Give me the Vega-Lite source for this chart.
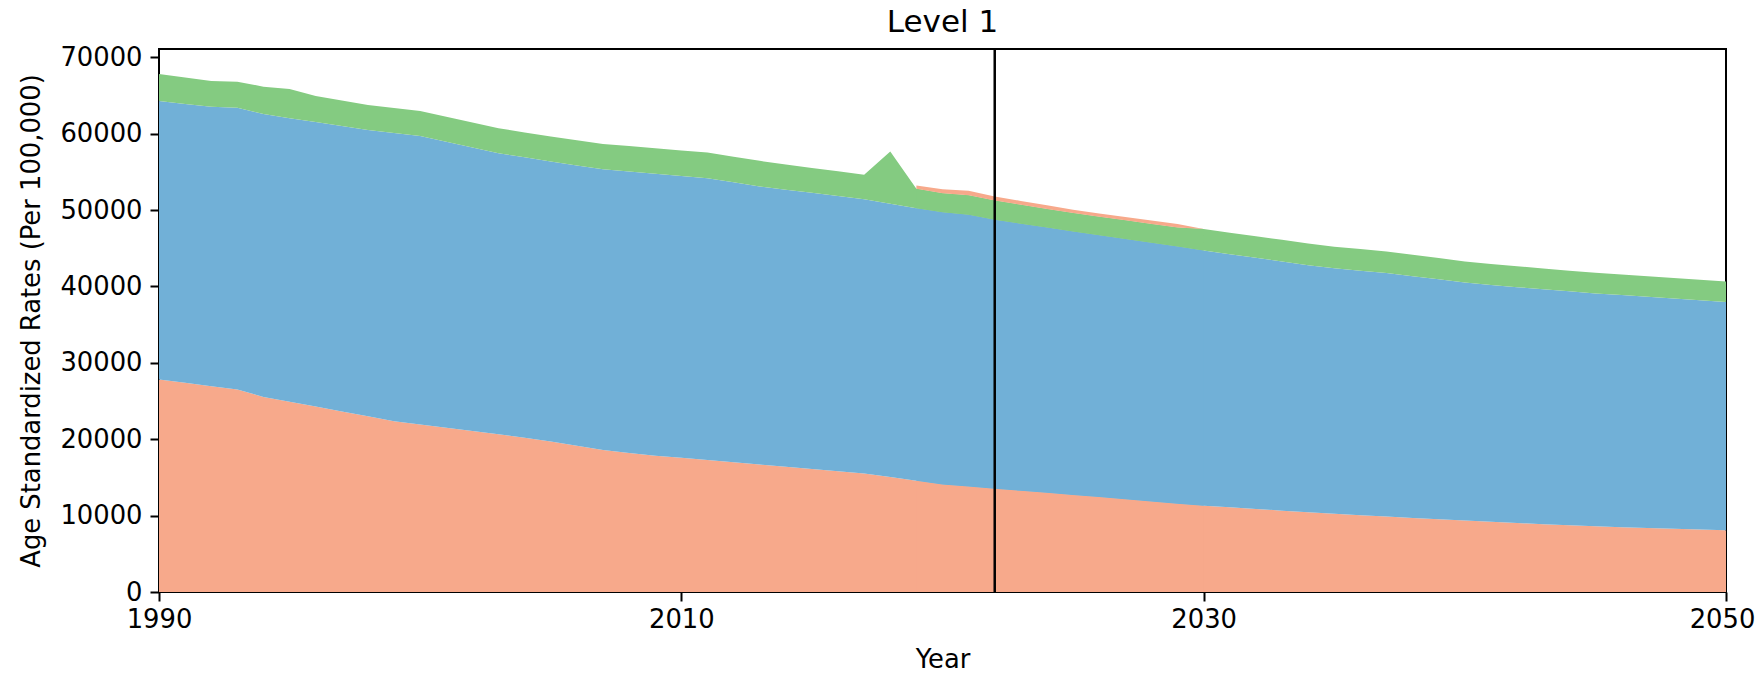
{
  "$schema": "https://vega.github.io/schema/vega-lite/v6.json",
  "width": 1567,
  "height": 543,
  "autosize": {"type": "none"},
  "padding": {"left": 159, "top": 49, "right": 30, "bottom": 86},
  "background": "white",
  "title": {"text": "Level 1", "fontSize": 31, "fontWeight": "normal", "font": "DejaVu Sans", "color": "black", "offset": 5},
  "config": {
    "font": "DejaVu Sans",
    "view": {"stroke": "black", "strokeWidth": 2},
    "axis": {"grid": false, "domain": false, "tickColor": "black", "tickWidth": 2, "tickSize": 9, "labelColor": "black", "labelFontSize": 25.8, "titleFontSize": 25.8, "titleFontWeight": "normal", "titleColor": "black", "labelFlush": false, "labelOverlap": false}
  },
  "datasets": {
    "rates": [
      {"year":1990,"cause":"Communicable diseases","value":27810},{"year":1990,"cause":"Non-communicable diseases","value":36475},{"year":1990,"cause":"Injuries","value":3530},
      {"year":1991,"cause":"Communicable diseases","value":27400},{"year":1991,"cause":"Non-communicable diseases","value":36500},{"year":1991,"cause":"Injuries","value":3450},
      {"year":1992,"cause":"Communicable diseases","value":26950},{"year":1992,"cause":"Non-communicable diseases","value":36590},{"year":1992,"cause":"Injuries","value":3360},
      {"year":1993,"cause":"Communicable diseases","value":26500},{"year":1993,"cause":"Non-communicable diseases","value":36910},{"year":1993,"cause":"Injuries","value":3400},
      {"year":1994,"cause":"Communicable diseases","value":25540},{"year":1994,"cause":"Non-communicable diseases","value":37045},{"year":1994,"cause":"Injuries","value":3570},
      {"year":1995,"cause":"Communicable diseases","value":24900},{"year":1995,"cause":"Non-communicable diseases","value":37120},{"year":1995,"cause":"Injuries","value":3830},
      {"year":1996,"cause":"Communicable diseases","value":24270},{"year":1996,"cause":"Non-communicable diseases","value":37270},{"year":1996,"cause":"Injuries","value":3400},
      {"year":1997,"cause":"Communicable diseases","value":23630},{"year":1997,"cause":"Non-communicable diseases","value":37390},{"year":1997,"cause":"Injuries","value":3330},
      {"year":1998,"cause":"Communicable diseases","value":23000},{"year":1998,"cause":"Non-communicable diseases","value":37495},{"year":1998,"cause":"Injuries","value":3265},
      {"year":1999,"cause":"Communicable diseases","value":22360},{"year":1999,"cause":"Non-communicable diseases","value":37740},{"year":1999,"cause":"Injuries","value":3270},
      {"year":2000,"cause":"Communicable diseases","value":21925},{"year":2000,"cause":"Non-communicable diseases","value":37785},{"year":2000,"cause":"Injuries","value":3265},
      {"year":2001,"cause":"Communicable diseases","value":21500},{"year":2001,"cause":"Non-communicable diseases","value":37450},{"year":2001,"cause":"Injuries","value":3270},
      {"year":2002,"cause":"Communicable diseases","value":21080},{"year":2002,"cause":"Non-communicable diseases","value":37120},{"year":2002,"cause":"Injuries","value":3270},
      {"year":2003,"cause":"Communicable diseases","value":20650},{"year":2003,"cause":"Non-communicable diseases","value":36795},{"year":2003,"cause":"Injuries","value":3270},
      {"year":2004,"cause":"Communicable diseases","value":20200},{"year":2004,"cause":"Non-communicable diseases","value":36700},{"year":2004,"cause":"Injuries","value":3270},
      {"year":2005,"cause":"Communicable diseases","value":19700},{"year":2005,"cause":"Non-communicable diseases","value":36650},{"year":2005,"cause":"Injuries","value":3270},
      {"year":2006,"cause":"Communicable diseases","value":19150},{"year":2006,"cause":"Non-communicable diseases","value":36700},{"year":2006,"cause":"Injuries","value":3290},
      {"year":2007,"cause":"Communicable diseases","value":18600},{"year":2007,"cause":"Non-communicable diseases","value":36750},{"year":2007,"cause":"Injuries","value":3310},
      {"year":2008,"cause":"Communicable diseases","value":18200},{"year":2008,"cause":"Non-communicable diseases","value":36850},{"year":2008,"cause":"Injuries","value":3330},
      {"year":2009,"cause":"Communicable diseases","value":17850},{"year":2009,"cause":"Non-communicable diseases","value":36900},{"year":2009,"cause":"Injuries","value":3350},
      {"year":2010,"cause":"Communicable diseases","value":17570},{"year":2010,"cause":"Non-communicable diseases","value":36880},{"year":2010,"cause":"Injuries","value":3360},
      {"year":2011,"cause":"Communicable diseases","value":17280},{"year":2011,"cause":"Non-communicable diseases","value":36895},{"year":2011,"cause":"Injuries","value":3355},
      {"year":2012,"cause":"Communicable diseases","value":16990},{"year":2012,"cause":"Non-communicable diseases","value":36640},{"year":2012,"cause":"Injuries","value":3360},
      {"year":2013,"cause":"Communicable diseases","value":16690},{"year":2013,"cause":"Non-communicable diseases","value":36390},{"year":2013,"cause":"Injuries","value":3360},
      {"year":2014,"cause":"Communicable diseases","value":16400},{"year":2014,"cause":"Non-communicable diseases","value":36270},{"year":2014,"cause":"Injuries","value":3310},
      {"year":2015,"cause":"Communicable diseases","value":16110},{"year":2015,"cause":"Non-communicable diseases","value":36150},{"year":2015,"cause":"Injuries","value":3260},
      {"year":2016,"cause":"Communicable diseases","value":15810},{"year":2016,"cause":"Non-communicable diseases","value":36040},{"year":2016,"cause":"Injuries","value":3220},
      {"year":2017,"cause":"Communicable diseases","value":15520},{"year":2017,"cause":"Non-communicable diseases","value":35910},{"year":2017,"cause":"Injuries","value":3180},
      {"year":2018,"cause":"Communicable diseases","value":15040},{"year":2018,"cause":"Non-communicable diseases","value":35800},{"year":2018,"cause":"Injuries","value":6820},
      {"year":2019,"cause":"Communicable diseases","value":14560},{"year":2019,"cause":"Non-communicable diseases","value":35690},{"year":2019,"cause":"Injuries","value":2530},{"year":2019,"cause":"Other","value":430},
      {"year":2020,"cause":"Communicable diseases","value":14080},{"year":2020,"cause":"Non-communicable diseases","value":35620},{"year":2020,"cause":"Injuries","value":2515},{"year":2020,"cause":"Other","value":525},
      {"year":2021,"cause":"Communicable diseases","value":13800},{"year":2021,"cause":"Non-communicable diseases","value":35580},{"year":2021,"cause":"Injuries","value":2570},{"year":2021,"cause":"Other","value":570},
      {"year":2022,"cause":"Communicable diseases","value":13515},{"year":2022,"cause":"Non-communicable diseases","value":35215},{"year":2022,"cause":"Injuries","value":2520},{"year":2022,"cause":"Other","value":525},
      {"year":2023,"cause":"Communicable diseases","value":13250},{"year":2023,"cause":"Non-communicable diseases","value":34970},{"year":2023,"cause":"Injuries","value":2480},{"year":2023,"cause":"Other","value":500},
      {"year":2024,"cause":"Communicable diseases","value":12980},{"year":2024,"cause":"Non-communicable diseases","value":34730},{"year":2024,"cause":"Injuries","value":2440},{"year":2024,"cause":"Other","value":470},
      {"year":2025,"cause":"Communicable diseases","value":12700},{"year":2025,"cause":"Non-communicable diseases","value":34500},{"year":2025,"cause":"Injuries","value":2400},{"year":2025,"cause":"Other","value":435},
      {"year":2026,"cause":"Communicable diseases","value":12440},{"year":2026,"cause":"Non-communicable diseases","value":34270},{"year":2026,"cause":"Injuries","value":2420},{"year":2026,"cause":"Other","value":430},
      {"year":2027,"cause":"Communicable diseases","value":12150},{"year":2027,"cause":"Non-communicable diseases","value":34070},{"year":2027,"cause":"Injuries","value":2440},{"year":2027,"cause":"Other","value":430},
      {"year":2028,"cause":"Communicable diseases","value":11850},{"year":2028,"cause":"Non-communicable diseases","value":33880},{"year":2028,"cause":"Injuries","value":2460},{"year":2028,"cause":"Other","value":430},
      {"year":2029,"cause":"Communicable diseases","value":11560},{"year":2029,"cause":"Non-communicable diseases","value":33680},{"year":2029,"cause":"Injuries","value":2480},{"year":2029,"cause":"Other","value":440},
      {"year":2030,"cause":"Communicable diseases","value":11300},{"year":2030,"cause":"Non-communicable diseases","value":33415},{"year":2030,"cause":"Injuries","value":2795},{"year":2030,"cause":"Other","value":0},
      {"year":2031,"cause":"Communicable diseases","value":11080},{"year":2031,"cause":"Non-communicable diseases","value":33150},{"year":2031,"cause":"Injuries","value":2810},
      {"year":2032,"cause":"Communicable diseases","value":10870},{"year":2032,"cause":"Non-communicable diseases","value":32880},{"year":2032,"cause":"Injuries","value":2820},
      {"year":2033,"cause":"Communicable diseases","value":10650},{"year":2033,"cause":"Non-communicable diseases","value":32620},{"year":2033,"cause":"Injuries","value":2830},
      {"year":2034,"cause":"Communicable diseases","value":10450},{"year":2034,"cause":"Non-communicable diseases","value":32340},{"year":2034,"cause":"Injuries","value":2840},
      {"year":2035,"cause":"Communicable diseases","value":10250},{"year":2035,"cause":"Non-communicable diseases","value":32120},{"year":2035,"cause":"Injuries","value":2830},
      {"year":2036,"cause":"Communicable diseases","value":10060},{"year":2036,"cause":"Non-communicable diseases","value":32000},{"year":2036,"cause":"Injuries","value":2830},
      {"year":2037,"cause":"Communicable diseases","value":9880},{"year":2037,"cause":"Non-communicable diseases","value":31880},{"year":2037,"cause":"Injuries","value":2825},
      {"year":2038,"cause":"Communicable diseases","value":9700},{"year":2038,"cause":"Non-communicable diseases","value":31650},{"year":2038,"cause":"Injuries","value":2800},
      {"year":2039,"cause":"Communicable diseases","value":9520},{"year":2039,"cause":"Non-communicable diseases","value":31410},{"year":2039,"cause":"Injuries","value":2780},
      {"year":2040,"cause":"Communicable diseases","value":9350},{"year":2040,"cause":"Non-communicable diseases","value":31170},{"year":2040,"cause":"Injuries","value":2760},
      {"year":2041,"cause":"Communicable diseases","value":9190},{"year":2041,"cause":"Non-communicable diseases","value":30990},{"year":2041,"cause":"Injuries","value":2750},
      {"year":2042,"cause":"Communicable diseases","value":9030},{"year":2042,"cause":"Non-communicable diseases","value":30880},{"year":2042,"cause":"Injuries","value":2730},
      {"year":2043,"cause":"Communicable diseases","value":8880},{"year":2043,"cause":"Non-communicable diseases","value":30750},{"year":2043,"cause":"Injuries","value":2720},
      {"year":2044,"cause":"Communicable diseases","value":8740},{"year":2044,"cause":"Non-communicable diseases","value":30620},{"year":2044,"cause":"Injuries","value":2700},
      {"year":2045,"cause":"Communicable diseases","value":8600},{"year":2045,"cause":"Non-communicable diseases","value":30490},{"year":2045,"cause":"Injuries","value":2700},
      {"year":2046,"cause":"Communicable diseases","value":8480},{"year":2046,"cause":"Non-communicable diseases","value":30390},{"year":2046,"cause":"Injuries","value":2690},
      {"year":2047,"cause":"Communicable diseases","value":8370},{"year":2047,"cause":"Non-communicable diseases","value":30270},{"year":2047,"cause":"Injuries","value":2700},
      {"year":2048,"cause":"Communicable diseases","value":8270},{"year":2048,"cause":"Non-communicable diseases","value":30150},{"year":2048,"cause":"Injuries","value":2690},
      {"year":2049,"cause":"Communicable diseases","value":8180},{"year":2049,"cause":"Non-communicable diseases","value":30010},{"year":2049,"cause":"Injuries","value":2690},
      {"year":2050,"cause":"Communicable diseases","value":8090},{"year":2050,"cause":"Non-communicable diseases","value":29880},{"year":2050,"cause":"Injuries","value":2690}
    ],
    "marker": [{"year": 2022}]
  },
  "layer": [
    {
      "data": {"name": "rates"},
      "transform": [
        {"filter": "datum.cause != 'Other'"},
        {"calculate": "indexof(['Communicable diseases','Non-communicable diseases','Injuries','Other'], datum.cause)", "as": "rank"}
      ],
      "mark": {"type": "area", "clip": true},
      "encoding": {
        "x": {"field": "year", "type": "quantitative", "scale": {"domain": [1990, 2050], "nice": false, "zero": false},
              "axis": {"title": "Year", "values": [1990, 2010, 2030, 2050], "format": "d", "labelPadding": 6, "titlePadding": 16,
                       "labelOffset": {"condition": {"test": "datum.value == 2050", "value": -4}, "value": 0}}},
        "y": {"field": "value", "type": "quantitative", "stack": "zero", "scale": {"domain": [0, 71085], "nice": false},
              "axis": {"title": "Age Standardized Rates (Per 100,000)", "values": [0, 10000, 20000, 30000, 40000, 50000, 60000, 70000], "format": "d", "labelPadding": 8, "titlePadding": 15}},
        "color": {"field": "cause", "type": "nominal", "legend": null,
                  "scale": {"domain": ["Communicable diseases", "Non-communicable diseases", "Injuries", "Other"], "range": ["#f7a98b", "#71b0d7", "#84cb81", "#f7a98b"]}},
        "order": {"field": "rank", "type": "quantitative", "sort": "ascending"}
      }
    },
    {
      "data": {"name": "rates"},
      "transform": [
        {"filter": "datum.year >= 2019 && datum.year <= 2030"},
        {"calculate": "indexof(['Communicable diseases','Non-communicable diseases','Injuries','Other'], datum.cause)", "as": "rank"}
      ],
      "mark": {"type": "area", "clip": true},
      "encoding": {
        "x": {"field": "year", "type": "quantitative"},
        "y": {"field": "value", "type": "quantitative", "stack": "zero"},
        "color": {"field": "cause", "type": "nominal", "legend": null},
        "order": {"field": "rank", "type": "quantitative", "sort": "ascending"}
      }
    },
    {
      "data": {"name": "marker"},
      "mark": {"type": "rule", "color": "black", "strokeWidth": 2.5},
      "encoding": {"x": {"field": "year", "type": "quantitative"}}
    }
  ]
}
